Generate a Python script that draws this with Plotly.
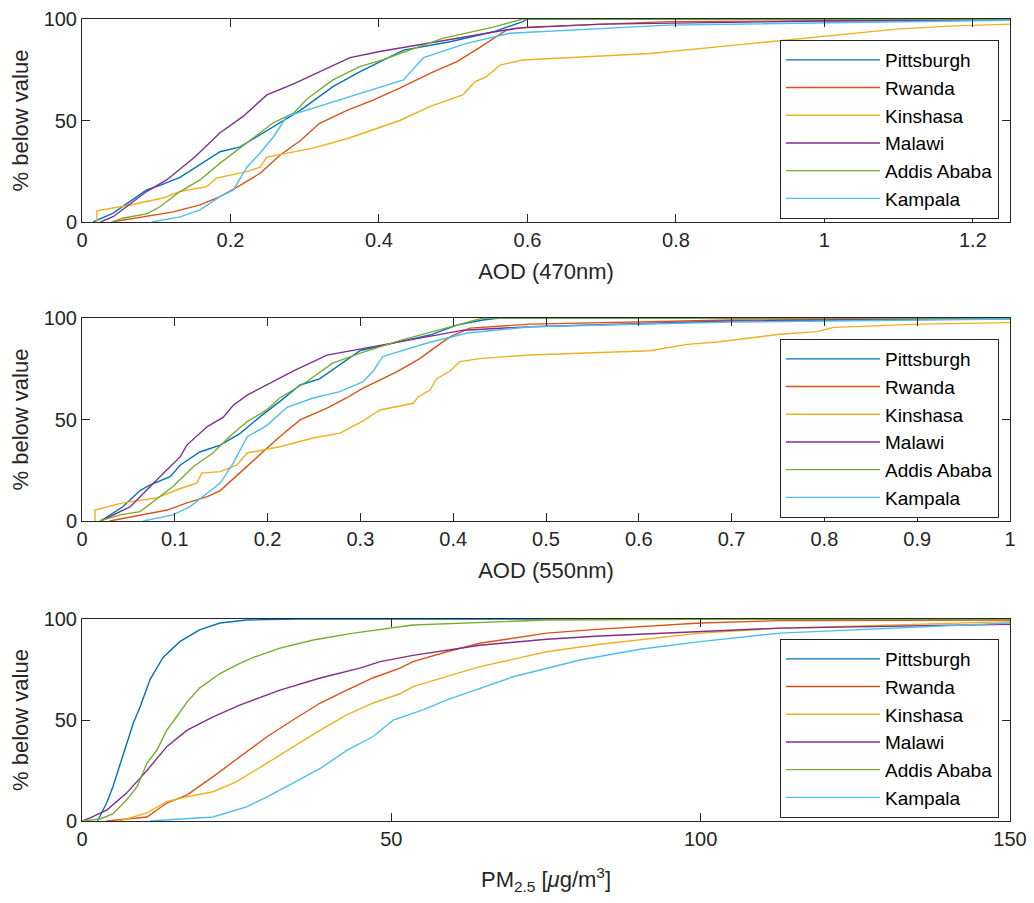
import plotly.graph_objects as go

cities = ["Pittsburgh", "Rwanda", "Kinshasa", "Malawi", "Addis Ababa", "Kampala"]
colors = ["#0072BD", "#D95319", "#EDB120", "#7E2F8E", "#77AC30", "#4DBEEE"]

# ---------- Panel 1 : AOD (470nm) ----------
aod470_pittsburgh_x = [0.015, 0.042, 0.087, 0.105, 0.132, 0.186, 0.213, 0.249, 0.294, 0.338, 0.374, 0.433, 0.496, 0.554, 0.594, 0.6, 1.25]
aod470_pittsburgh_y = [0, 4.4, 15.8, 18, 22, 34.6, 37, 45, 55, 66.7, 74, 84.7, 88.8, 93.7, 98.7, 100, 100]
aod470_rwanda_x = [0.04, 0.087, 0.123, 0.159, 0.186, 0.213, 0.24, 0.267, 0.294, 0.32, 0.357, 0.392, 0.428, 0.473, 0.505, 0.536, 0.558, 0.572, 0.6, 0.79, 1.25]
aod470_rwanda_y = [0, 3, 5, 8.4, 12.5, 18, 24, 33, 40, 48.6, 55, 60, 66, 74, 79, 86, 91, 94.6, 96, 98.7, 99.6]
aod470_kinshasa_x = [0.02, 0.02, 0.065, 0.109, 0.132, 0.168, 0.181, 0.222, 0.24, 0.249, 0.311, 0.357, 0.428, 0.469, 0.513, 0.529, 0.545, 0.563, 0.594, 0.765, 0.89, 0.99, 1.097, 1.169, 1.25]
aod470_kinshasa_y = [0, 5.5, 8.4, 11.8, 15, 17.4, 21.6, 24.8, 27, 32, 36.4, 41, 50, 57, 62.6, 69, 71.6, 77.3, 79.8, 83, 87.5, 91, 95, 96.5, 97.5]
aod470_malawi_x = [0.025, 0.042, 0.087, 0.114, 0.152, 0.186, 0.217, 0.249, 0.285, 0.32, 0.361, 0.401, 0.45, 0.496, 0.586, 0.7, 1.0, 1.25]
aod470_malawi_y = [0, 2.6, 15, 20.7, 32, 44, 52, 62.6, 68, 74, 81, 84, 87, 89.7, 95.5, 97.5, 99, 99.5]
aod470_addis_x = [0.04, 0.056, 0.087, 0.105, 0.132, 0.159, 0.186, 0.222, 0.258, 0.285, 0.303, 0.338, 0.374, 0.406, 0.428, 0.487, 0.554, 0.594, 1.25]
aod470_addis_y = [0, 2, 4, 7.5, 15, 20.7, 29, 39, 49, 53.6, 60.6, 70, 76.5, 80, 83, 90.6, 96, 100, 100]
aod470_kampala_x = [0.094, 0.132, 0.159, 0.186, 0.204, 0.222, 0.24, 0.258, 0.276, 0.32, 0.392, 0.433, 0.46, 0.518, 0.576, 0.79, 1.25]
aod470_kampala_y = [0, 2.5, 6, 12.5, 15.8, 27, 34, 42, 52, 57, 65, 70, 81, 88, 93, 97, 99.4]

# ---------- Panel 2 : AOD (550nm) ----------
aod550_pittsburgh_x = [0.02, 0.044, 0.0625, 0.073, 0.095, 0.106, 0.127, 0.149, 0.17, 0.192, 0.213, 0.235, 0.256, 0.278, 0.3, 0.339, 0.375, 0.404, 0.432, 0.45, 1.0]
aod550_pittsburgh_y = [0, 7, 15, 17.7, 21.8, 27.6, 34, 37.4, 43, 51.4, 58.8, 67, 70, 76.8, 84, 88, 91.6, 96.5, 99, 100, 100]
aod550_rwanda_x = [0.03, 0.07, 0.092, 0.113, 0.135, 0.149, 0.17, 0.192, 0.213, 0.235, 0.264, 0.285, 0.303, 0.339, 0.364, 0.382, 0.397, 0.418, 0.483, 0.7, 1.0]
aod550_rwanda_y = [0, 3.4, 5.4, 8.9, 12, 15, 23.6, 32.5, 41.5, 49.8, 55.6, 60.6, 65.5, 73.5, 80, 86, 90.8, 95, 97, 99, 99.8]
aod550_kinshasa_x = [0.014, 0.014, 0.044, 0.08, 0.106, 0.124, 0.129, 0.149, 0.167, 0.178, 0.213, 0.249, 0.278, 0.303, 0.321, 0.357, 0.362, 0.375, 0.382, 0.397, 0.407, 0.429, 0.483, 0.612, 0.652, 0.687, 0.752, 0.792, 0.81, 0.903, 1.0]
aod550_kinshasa_y = [0, 5.4, 8.9, 11.3, 16, 18.7, 23.6, 24.3, 27.6, 33.5, 36.6, 40.9, 43.3, 49.3, 54.7, 58, 61, 64.5, 70, 74, 78.5, 80, 81.8, 83.9, 87, 88.3, 92, 93.3, 95.4, 97, 97.7]
aod550_malawi_x = [0.02, 0.052, 0.084, 0.106, 0.113, 0.135, 0.152, 0.163, 0.178, 0.203, 0.228, 0.264, 0.3, 0.339, 0.411, 0.483, 0.7, 1.0]
aod550_malawi_y = [0, 7, 21.8, 31.7, 37.4, 46.5, 51, 57, 62, 68, 74, 81.7, 84.7, 88, 94, 95.7, 98.5, 99.6]
aod550_addis_x = [0.019, 0.041, 0.0625, 0.084, 0.098, 0.12, 0.141, 0.16, 0.178, 0.199, 0.213, 0.242, 0.27, 0.3, 0.343, 0.404, 0.432, 1.0]
aod550_addis_y = [0, 3, 4.6, 12, 17, 26.7, 33.5, 42, 49, 54.7, 60.6, 68.6, 77.8, 82.7, 89, 96.5, 100, 100]
aod550_kampala_x = [0.066, 0.098, 0.116, 0.135, 0.149, 0.163, 0.178, 0.199, 0.221, 0.249, 0.278, 0.303, 0.314, 0.324, 0.353, 0.372, 0.415, 0.483, 0.7, 1.0]
aod550_kampala_y = [0, 3, 7, 13.8, 18.7, 28.5, 41.5, 47, 56, 60.6, 63.7, 68.6, 74, 81, 85, 87.7, 92.6, 95.7, 98, 99.5]

# ---------- Panel 3 : PM2.5 ----------
pm25_pittsburgh_x = [2.5, 4, 5, 6.6, 8.3, 9.4, 11, 13.1, 15.8, 19, 22.3, 26.6, 35, 150]
pm25_pittsburgh_y = [0, 9, 17, 32, 48.5, 56.6, 70, 81, 88.8, 94.6, 98, 99.5, 100, 100]
pm25_rwanda_x = [4, 10.5, 13.7, 17, 21.2, 25.5, 29.9, 34.1, 38.5, 42.8, 47, 51.4, 53.5, 59, 64.3, 75.1, 83.7, 99.9, 112.8, 150]
pm25_rwanda_y = [0, 2, 8.9, 12.9, 22, 31.8, 41.7, 50, 58.4, 64.8, 70.8, 75.7, 78.9, 83.8, 88, 93, 95, 98, 99.2, 99.5]
pm25_kinshasa_x = [6.1, 10.5, 13.7, 17, 21.2, 25, 29.9, 34.1, 38.5, 42.8, 47, 51.4, 53.5, 64.3, 75.1, 83.7, 99.9, 112.8, 150]
pm25_kinshasa_y = [0, 4, 9.6, 12, 14.5, 19.5, 28.7, 36.8, 45, 52.5, 58.3, 63, 66.5, 76.4, 83.8, 87.5, 93, 95.4, 98.7]
pm25_malawi_x = [0, 1.3, 4, 7.2, 10.5, 13.7, 17, 21.2, 25.5, 32, 38.5, 44.9, 48.2, 53.5, 64.3, 75.1, 83.7, 99.9, 112.8, 150]
pm25_malawi_y = [0, 1.5, 5.4, 13.8, 25, 36.8, 45, 51.6, 57.4, 64.8, 70.8, 75.7, 78.9, 82, 87, 90, 91.6, 93.7, 95.5, 97.4]
pm25_addis_x = [0, 2.9, 5, 7.2, 8.9, 10.5, 12.1, 13.7, 15.3, 17, 19, 22.3, 25.5, 27.7, 32, 37.4, 43.9, 51.4, 53.5, 75, 100, 150]
pm25_addis_y = [0, 1, 3.5, 10.4, 17, 28.7, 35, 45, 51.6, 59, 65.8, 73, 78, 81, 85.6, 89.6, 93, 96, 97, 99.5, 99.8, 100]
pm25_kampala_x = [11, 21.2, 26.6, 29.9, 34.1, 38.5, 42.8, 47, 50.3, 55.1, 59, 69.7, 80.5, 90.2, 99.9, 112.8, 150]
pm25_kampala_y = [0, 2, 7, 12, 18.8, 26, 35, 41.7, 50, 55, 60, 71.4, 79.7, 85, 88.8, 93, 98]

panels = [
    [(aod470_pittsburgh_x, aod470_pittsburgh_y), (aod470_rwanda_x, aod470_rwanda_y),
     (aod470_kinshasa_x, aod470_kinshasa_y), (aod470_malawi_x, aod470_malawi_y),
     (aod470_addis_x, aod470_addis_y), (aod470_kampala_x, aod470_kampala_y)],
    [(aod550_pittsburgh_x, aod550_pittsburgh_y), (aod550_rwanda_x, aod550_rwanda_y),
     (aod550_kinshasa_x, aod550_kinshasa_y), (aod550_malawi_x, aod550_malawi_y),
     (aod550_addis_x, aod550_addis_y), (aod550_kampala_x, aod550_kampala_y)],
    [(pm25_pittsburgh_x, pm25_pittsburgh_y), (pm25_rwanda_x, pm25_rwanda_y),
     (pm25_kinshasa_x, pm25_kinshasa_y), (pm25_malawi_x, pm25_malawi_y),
     (pm25_addis_x, pm25_addis_y), (pm25_kampala_x, pm25_kampala_y)],
]

x_titles = ["AOD (470nm)", "AOD (550nm)", "PM<sub>2.5</sub> [<i>μ</i>g/m<sup>3</sup>]"]
x_title_standoff = [13, 13, 22]
x_ranges = [[0, 1.25], [0, 1], [0, 150]]
x_ticks = [[0, 0.2, 0.4, 0.6, 0.8, 1, 1.2],
           [0, 0.1, 0.2, 0.3, 0.4, 0.5, 0.6, 0.7, 0.8, 0.9, 1],
           [0, 50, 100, 150]]
x_ticktext = [["0", "0.2", "0.4", "0.6", "0.8", "1", "1.2"],
              ["0", "0.1", "0.2", "0.3", "0.4", "0.5", "0.6", "0.7", "0.8", "0.9", "1"],
              ["0", "50", "100", "150"]]
y_ticks = [0, 50, 100]

W, H = 1034, 903
ml, mr, mt, mb = 82, 24, 19, 82
ph = H - mt - mb
plot_px = [(19, 222), (318, 521), (619, 821)]
legend_bottom_px = [219, 518, 818]

axc = "#262626"
FONT = "Liberation Sans, Arial, sans-serif"

fig = go.Figure()
layout = dict(
    width=W, height=H,
    margin=dict(l=ml, r=mr, t=mt, b=mb, autoexpand=False),
    paper_bgcolor="white", plot_bgcolor="white",
    font=dict(family=FONT, size=20, color=axc),
    showlegend=True,
)

for p in range(3):
    xa = "x" if p == 0 else f"x{p+1}"
    ya = "y" if p == 0 else f"y{p+1}"
    lg = "legend" if p == 0 else f"legend{p+1}"
    for i, (xs, ys) in enumerate(panels[p]):
        fig.add_trace(go.Scatter(
            x=xs, y=ys, mode="lines", name=cities[i],
            line=dict(color=colors[i], width=1.4),
            xaxis=xa, yaxis=ya, legend=lg, showlegend=True,
        ))
    top, bot = plot_px[p]
    dom = [(H - mb - bot) / ph, (H - mb - top) / ph]
    axis_common = dict(
        showline=True, linecolor=axc, linewidth=1, mirror="ticks",
        ticks="inside", ticklen=8, tickcolor=axc, tickwidth=1,
        showgrid=False, zeroline=False, automargin=False,
        tickfont=dict(family=FONT, size=20, color=axc),
    )
    layout[f"xaxis{'' if p == 0 else p+1}"] = dict(
        axis_common, domain=[0, 1], range=x_ranges[p], anchor=ya,
        tickmode="array", tickvals=x_ticks[p], ticktext=x_ticktext[p],
        title=dict(text=x_titles[p], font=dict(family=FONT, size=22, color=axc),
                   standoff=x_title_standoff[p]),
    )
    layout[f"yaxis{'' if p == 0 else p+1}"] = dict(
        axis_common, domain=dom, range=[0, 100], anchor=xa,
        tickmode="array", tickvals=y_ticks,
        title=dict(text="% below value", font=dict(family=FONT, size=22, color=axc), standoff=8),
    )
    layout[lg] = dict(
        x=(999 - ml) / (W - ml - mr), xanchor="right",
        y=(H - mb - legend_bottom_px[p]) / ph, yanchor="bottom",
        bgcolor="white", bordercolor=axc, borderwidth=1,
        font=dict(family=FONT, size=19, color="black"),
        itemwidth=94, tracegroupgap=0,
    )

fig.update_layout(**layout)
fig.write_html("out.html")
